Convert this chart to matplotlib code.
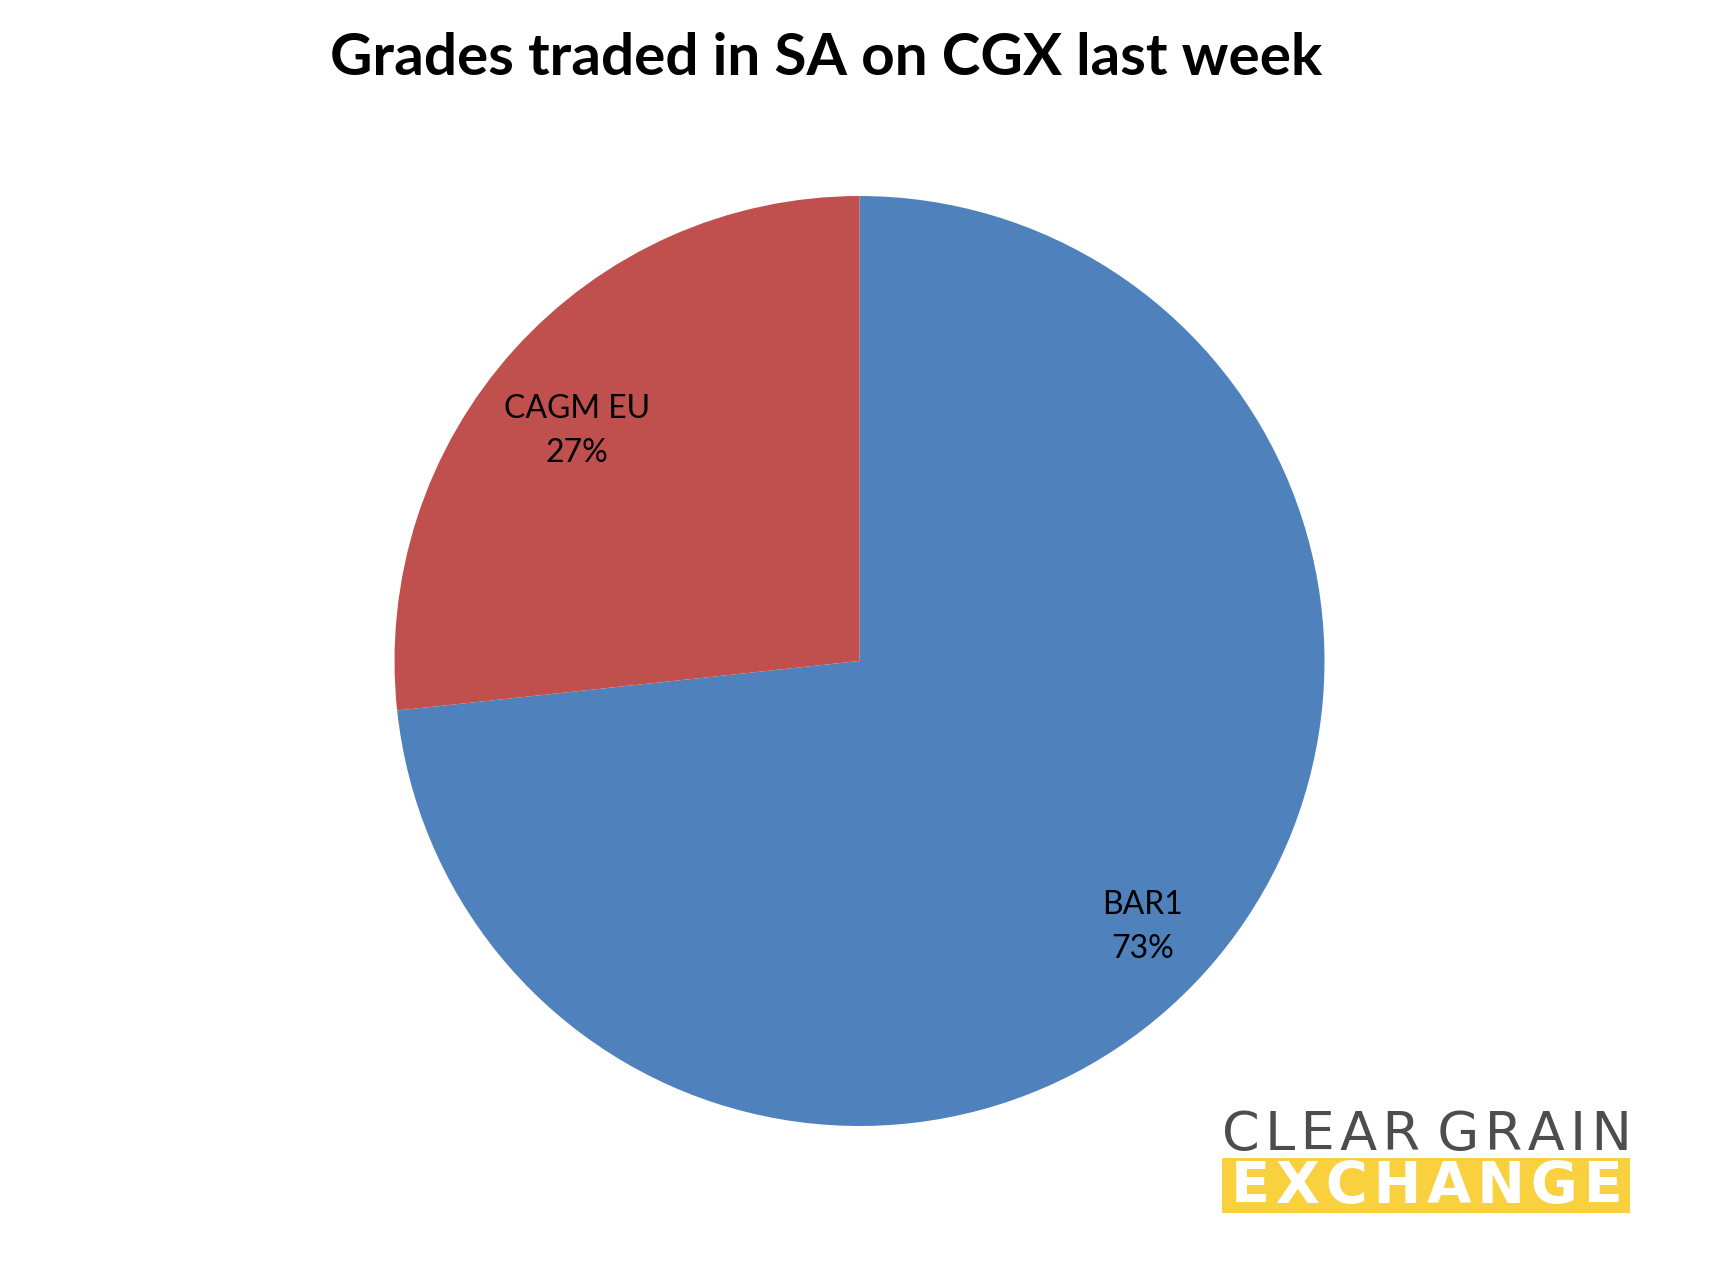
import matplotlib
matplotlib.use("Agg")
import numpy as np
import matplotlib.pyplot as plt
from matplotlib.patches import Rectangle

grades = ["BAR1", "CAGM EU"]
shares = [73.3, 26.7]
colors = ["#4F81BD", "#C0504D"]
title = "Grades traded in SA on CGX last week"

# label placement, as excel put them
label_dist = [0.835, 0.784]
label_turn = [-1.3, 2.8]

plt.rcParams["font.family"] = ["Lato", "DejaVu Sans"]


def fit_width(fig, txt, width_px):
    # scale the font so the text spans width_px pixels
    r = fig.canvas.get_renderer()
    w = txt.get_window_extent(r).width
    txt.set_fontsize(txt.get_fontsize() * width_px / w)


def spaced(s):
    # hair spaces between letters for the wide logo lettering
    return " ".join("\u200a".join(word) for word in s.split(" "))


fig = plt.figure(figsize=(17.19, 12.86), dpi=100)
ax = fig.add_axes([0.2295, 0.1244, 0.541, 0.7232])

labels = ["{}\n{:.0f}%".format(g, s) for g, s in zip(grades, shares)]
wedges, texts = ax.pie(shares, colors=colors, startangle=90, counterclock=False,
                       labels=labels,
                       textprops=dict(fontsize=23, color="black", linespacing=1.6))
for w, t, d, turn in zip(wedges, texts, label_dist, label_turn):
    ang = np.deg2rad((w.theta1 + w.theta2) / 2 + turn)
    t.set_position((d * np.cos(ang), d * np.sin(ang)))
    t.set_ha("center")
    t.set_va("center")
ax.set_xlim(-1, 1)
ax.set_ylim(-1, 1)

t = fig.text(0.4803, 0.9417, title, ha="center", va="baseline",
             fontsize=34, fontweight="bold")
fit_width(fig, t, 995)

# logo
band = Rectangle((0.7107, 0.0565), 0.2375, 0.0428, transform=fig.transFigure,
                 color="#F9D13E", lw=0)
fig.patches.append(band)
t1 = fig.text(0.8301, 0.1058, spaced("CLEAR GRAIN"), ha="center", va="baseline",
              fontsize=30, color="#4D4D4D", family="DejaVu Sans")
fit_width(fig, t1, 410)
t2 = fig.text(0.8300, 0.0643, spaced("EXCHANGE"), ha="center", va="baseline",
              fontsize=30, color="white", fontweight="bold", family="DejaVu Sans")
fit_width(fig, t2, 392)

fig.savefig("out.png", dpi=100, facecolor="white")
